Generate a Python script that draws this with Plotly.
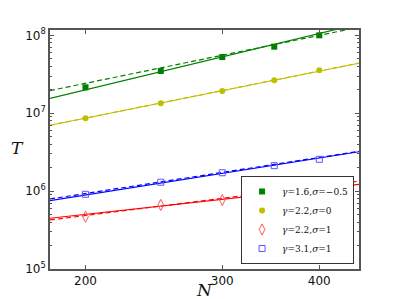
import plotly.graph_objects as go

# Data
N = [200, 250, 300, 350, 400]
T_g16_sm05 = [2.15e7, 3.48e7, 5.26e7, 7.14e7, 1.00e8]
T_g22_s0 = [8.6e6, 1.34e7, 1.93e7, 2.64e7, 3.56e7]
T_g22_s1 = [4.69e5, 6.64e5, 7.69e5, 9.82e5, 1.11e6]
T_g31_s1 = [9.1e5, 1.30e6, 1.72e6, 2.12e6, 2.56e6]

# Fit lines (values at the ends of the N range)
fit_N = [180, 450]
fit_g16_solid = [1.55e7, 1.40e8]
fit_g16_dash = [1.95e7, 1.27e8]
fit_g22s0_solid = [7.0e6, 4.38e7]
fit_g22s0_dash = [7.0e6, 4.40e7]
fit_g22s1_solid = [4.48e5, 1.22e6]
fit_g22s1_dash = [4.26e5, 1.34e6]
fit_g31_solid = [7.53e5, 3.2e6]
fit_g31_dash = [7.93e5, 3.24e6]

labels = ["<i>γ</i>=1.6,<i>σ</i>=−0.5", "<i>γ</i>=2.2,<i>σ</i>=0",
          "<i>γ</i>=2.2,<i>σ</i>=1", "<i>γ</i>=3.1,<i>σ</i>=1"]
y_ticks = [1e5, 1e6, 1e7, 1e8]
y_ticktext = ["10<sup>5</sup>", "10<sup>6</sup>", "10<sup>7</sup>", "10<sup>8</sup>"]
x_ticks = [200, 300, 400]

G, Y, R, B = "#008000", "#bfbf00", "#ff0000", "#0000ff"

fig = go.Figure()

def add_fit(vals, color, dash):
    fig.add_trace(go.Scatter(x=fit_N, y=vals, mode="lines", showlegend=False,
                             line=dict(color=color, width=1.2, dash=dash)))

add_fit(fit_g16_solid, G, "solid"); add_fit(fit_g16_dash, G, "5px,3px")
add_fit(fit_g22s0_solid, Y, "solid"); add_fit(fit_g22s0_dash, Y, "5px,3px")
add_fit(fit_g22s1_solid, R, "solid"); add_fit(fit_g22s1_dash, R, "5px,3px")
add_fit(fit_g31_solid, B, "solid"); add_fit(fit_g31_dash, B, "5px,3px")

fig.add_trace(go.Scatter(x=N, y=T_g16_sm05, mode="markers", name=labels[0],
                         marker=dict(symbol="square", size=6, color=G, line=dict(width=0))))
fig.add_trace(go.Scatter(x=N, y=T_g22_s0, mode="markers", name=labels[1],
                         marker=dict(symbol="circle", size=6, color=Y, line=dict(width=0))))
fig.add_trace(go.Scatter(x=N, y=T_g22_s1, mode="markers", name=labels[2],
                         marker=dict(symbol="diamond-tall-open", size=8, color="#ff5555",
                                     line=dict(width=1))))
fig.add_trace(go.Scatter(x=N, y=T_g31_s1, mode="markers", name=labels[3],
                         marker=dict(symbol="square-open", size=6, color="#5555ff",
                                     line=dict(width=1))))

axis_common = dict(showline=True, linecolor="#555", linewidth=1.5, mirror="allticks",
                   ticks="inside", tickcolor="#555", ticklen=4, showgrid=False, zeroline=False,
                   automargin=False,
                   tickfont=dict(family="DejaVu Sans", size=12, color="#111"))

fig.update_xaxes(type="log", range=[2.2553, 2.6532], tickvals=x_ticks,
                 ticktext=[str(v) for v in x_ticks], **axis_common)
fig.update_yaxes(type="log", range=[5, 8.068], tickvals=y_ticks, ticktext=y_ticktext,
                 minor=dict(ticks="inside", ticklen=2, tickcolor="#555",
                            tickvals=[m * 10 ** e for e in range(5, 8) for m in range(2, 10)]),
                 **axis_common)

fig.add_annotation(text="<i>N</i>", xref="paper", yref="paper", x=0.5, y=-0.088,
                   xanchor="center", yanchor="middle", showarrow=False,
                   font=dict(family="DejaVu Serif", size=17, color="#111"))
fig.add_annotation(text="<i>T</i>", xref="paper", yref="paper", x=-0.104, y=0.506,
                   xanchor="center", yanchor="middle", showarrow=False,
                   font=dict(family="DejaVu Serif", size=17, color="#111"))

fig.update_layout(
    width=391, height=291, margin=dict(l=42, r=40, t=22, b=30),
    paper_bgcolor="white", plot_bgcolor="white",
    legend=dict(x=0.984, y=0.021, xanchor="right", yanchor="bottom",
                bordercolor="#333", borderwidth=1, bgcolor="white",
                font=dict(family="DejaVu Serif", size=9, color="#111"),
                itemwidth=30, tracegroupgap=0),
)

fig.write_html("out.html")
